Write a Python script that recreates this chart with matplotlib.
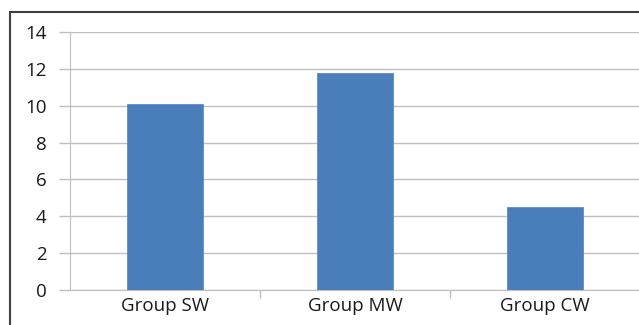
import matplotlib
matplotlib.use("Agg")
import matplotlib.pyplot as plt
from matplotlib.patches import Rectangle

groups = ["Group SW", "Group MW", "Group CW"]
values = [10.1, 11.8, 4.5]
yticks = [0, 2, 4, 6, 8, 10, 12, 14]

plt.rcParams["font.family"] = ["Open Sans", "DejaVu Sans"]

fig = plt.figure(figsize=(6.39, 3.25), dpi=100)
ax = fig.add_axes([70 / 639, 1 - 290 / 325, 570 / 639, 258 / 325])

# chart frame, runs off the right and bottom edges
fig.patches.append(Rectangle((10 / 639, -0.05), 1.1, 1 - 12 / 325 + 0.05,
                             transform=fig.transFigure, fill=False,
                             edgecolor="#404040", lw=1.5, zorder=0))

x = range(len(groups))
ax.bar(x, values, width=0.4, color="#4a7ebb", edgecolor="#5b8cc8", lw=0.6, zorder=3)

ax.set_xlim(-0.5, 2.5)
ax.set_ylim(0, 14)
ax.set_yticks(yticks)
ax.set_yticklabels([str(v) for v in yticks], fontsize=13.5, color="#1a1a1a")
ax.set_xticks([0, 1, 2])
ax.set_xticklabels(groups, fontsize=13.5, color="#1a1a1a")
ax.tick_params(axis="x", length=0, pad=5)
ax.tick_params(axis="y", length=8, width=1.0, color="#bfbfbf", pad=9)

# category boundary ticks
ax.set_xticks([0.5, 1.5], minor=True)
ax.tick_params(axis="x", which="minor", length=6, width=1.0, color="#bfbfbf")

ax.grid(axis="y", color="#c0c0c0", lw=1.0, zorder=0)
for side in ("top", "right"):
    ax.spines[side].set_visible(False)
ax.spines["left"].set_color("#bfbfbf")
ax.spines["bottom"].set_color("#bfbfbf")
ax.set_facecolor("none")

fig.savefig("out.png", dpi=100)
